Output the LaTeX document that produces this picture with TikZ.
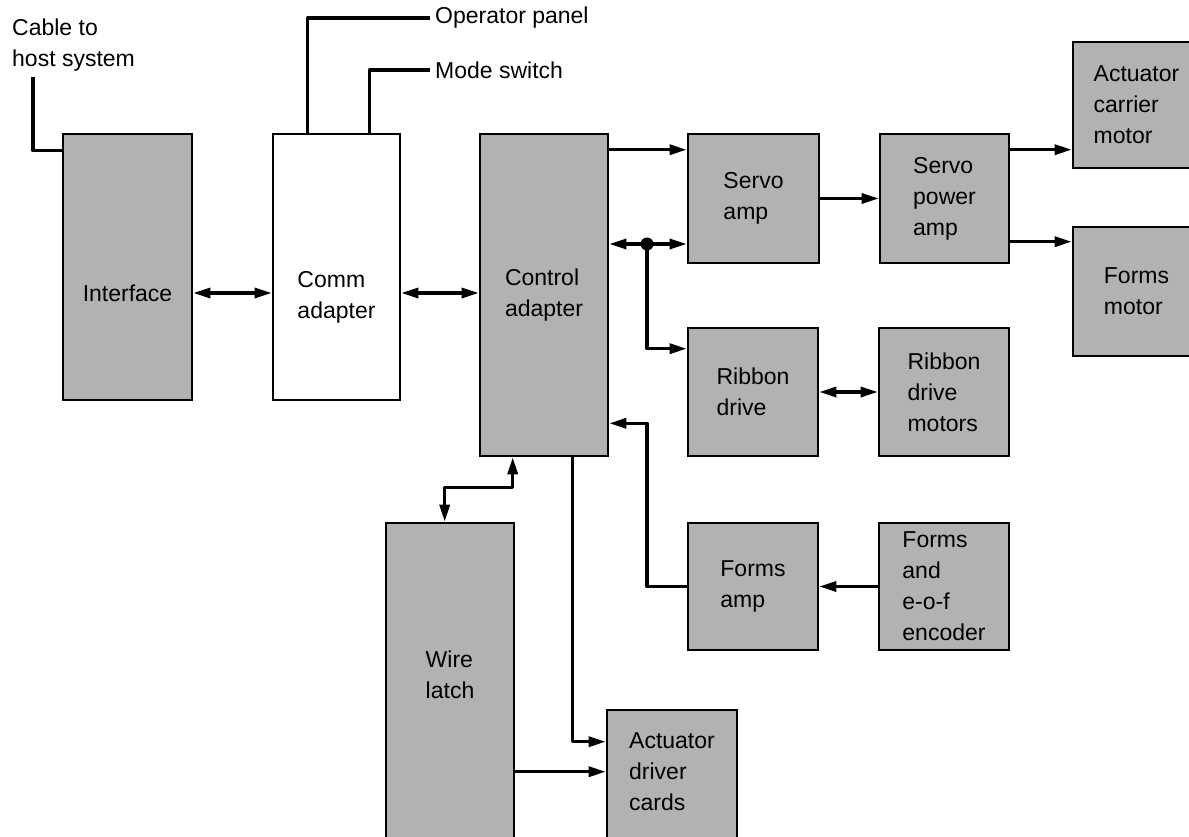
\documentclass[tikz,border=0pt]{standalone}
\usepackage{fontspec}
\setmainfont{Liberation Sans}
\usetikzlibrary{arrows.meta}
\definecolor{halftone}{RGB}{178,178,178}
\begin{document}
\begin{tikzpicture}[x=1pt,y=1pt,
  every node/.style={font=\fontsize{23}{31}\selectfont},
  blk/.style={draw=black, line width=2.6pt, fill=halftone, inner sep=0pt, align=left},
  wbox/.style={blk, fill=white},
  txt/.style={align=left, inner sep=0pt},
  wire/.style={line width=3.2pt, line join=round},
  conn/.style={wire, -{Triangle[length=17pt,width=10pt]}},
  bconn/.style={wire, {Triangle[length=17pt,width=10pt]}-{Triangle[length=17pt,width=10pt]}}]
\useasboundingbox (0,0) rectangle (1189,-836);
\clip (0,0) rectangle (1189,-836);

% blocks
\node[blk, minimum width=129, minimum height=266] (iface) at (127.5,-267) {};
\node[txt] (ifacet) at (127.5,-293) {Interface};
\node[wbox, minimum width=127, minimum height=266] (comm) at (336.5,-267) {};
\node[txt] (commt) at (336.5,-297) {Comm\\adapter};
\node[blk, minimum width=128, minimum height=322] (ctrl) at (544,-295) {Control\\adapter};
\node[blk, minimum width=131, minimum height=129] (servo) at (753.5,-198.5) {Servo\\amp};
\node[blk, minimum width=129, minimum height=129] (spa) at (944.5,-198.5) {Servo\\power\\amp};
\node[blk, minimum width=127, minimum height=126] (acm) at (1136.5,-105) {Actuator\\carrier\\motor};
\node[blk, minimum width=127, minimum height=129] (fm) at (1136.5,-291.5) {Forms\\motor};
\node[blk, minimum width=130, minimum height=128] (rd) at (753,-392) {Ribbon\\drive};
\node[blk, minimum width=130, minimum height=128] (rdm) at (944,-392) {Ribbon\\drive\\motors};
\node[blk, minimum width=130, minimum height=127] (fa) at (753,-586.5) {Forms\\amp};
\node[blk, minimum width=130, minimum height=127] (enc) at (944,-586.5) {Forms\\and\\e-o-f\\encoder};
\node[blk, minimum width=128, minimum height=337] (wl) at (450,-691.5) {};
\node[txt] (wlt) at (450,-675) {Wire\\latch};
\node[blk, minimum width=130, minimum height=150] (adc) at (672,-785) {};
\node[txt] (adct) at (672,-772) {Actuator\\driver\\cards};

% labels
\node[anchor=west, align=left, inner sep=4pt] (cable) at (8,-45) {Cable to\\host system};
\node[anchor=west, inner sep=5pt] (op) at (430,-18) {Operator panel};
\node[anchor=west, inner sep=5pt] (ms) at (430,-70) {Mode switch};

% coordinates
\coordinate (cab) at (33,-77);
\coordinate (j) at (647,-244);
\coordinate (p0) at ([yshift=-26]iface.east);
\coordinate (p1) at ([yshift=-26]comm.east);
\coordinate (s1) at ([yshift=-17]spa.north east);
\coordinate (s2) at ([yshift=-109]spa.north east);
\coordinate (f1) at ([yshift=34]ctrl.south east);
\coordinate (c1) at ([xshift=34]ctrl.south west);
\coordinate (w1) at ([xshift=60]wl.north west);
\coordinate (c2) at ([xshift=94]ctrl.south west);
\coordinate (a1) at ([yshift=-33]adc.north west);
\coordinate (a2) at ([yshift=-63]adc.north west);

% connectors
\draw[wire] (cab) |- ([yshift=-18]iface.north west);
\draw[wire] ([xshift=36]comm.north west) |- (op.west);
\draw[wire] ([xshift=98]comm.north west) |- (ms.west);
\draw[bconn] (p0) -- (p0 -| comm.west);
\draw[bconn] (p1) -- (p1 -| ctrl.west);
\draw[conn] ([yshift=-17]ctrl.north east) -- ([yshift=-17]servo.north west);
\draw[bconn] (j -| ctrl.east) -- (j -| servo.west);
\fill (j) circle (6.5);
\draw[conn] (j) |- ([yshift=-22]rd.north west);
\draw[conn] (servo.east) -- (spa.west);
\draw[conn] (s1) -- (s1 -| acm.west);
\draw[conn] (s2) -- (s2 -| fm.west);
\draw[bconn] (rd.east) -- (rdm.west);
\draw[conn] (enc.west) -- (fa.east);
\draw[conn] (fa.west) -- (fa.west -| j) -- (j |- f1) -- (f1);
\draw[bconn] (c1) -- ++(0,-30) -| (w1);
\draw[conn] (c2) |- (a1);
\draw[conn] (a2 -| wl.east) -- (a2);
\end{tikzpicture}
\end{document}
